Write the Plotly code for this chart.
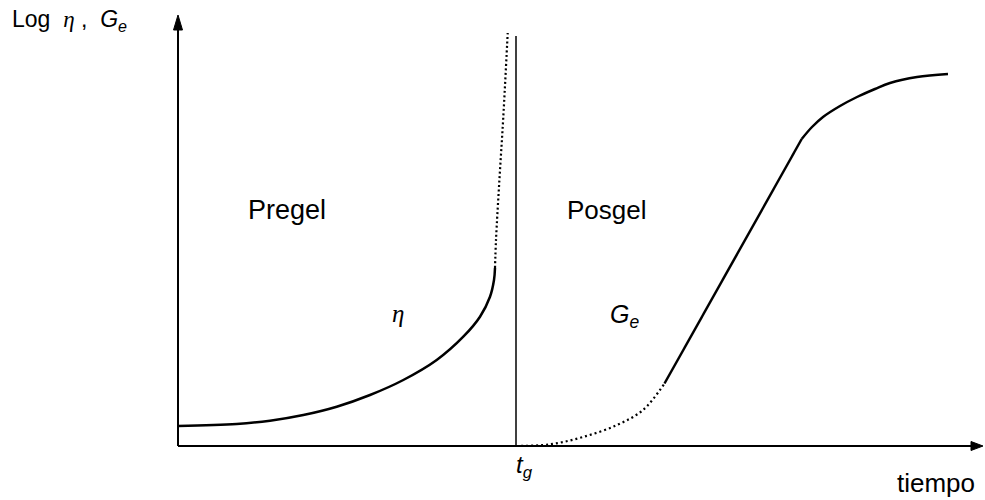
import plotly.graph_objects as go

# Schematic rheology of gelation: log viscosity (pregel) and log elastic modulus (posgel)
# Time in arbitrary units; gel time t_g marks the transition.
T_GEL = 3.38
T_MAX = 8.05          # end of time axis (arrow tip)
LOG_MAX = 4.31        # end of log axis (arrow tip)
GEL_LINE_TOP = 4.10

# Viscosity rising towards the gel point (measured part)
eta_t = [0.00, 0.587, 0.92, 1.253, 1.587, 1.92, 2.253, 2.587, 2.853, 3.02, 3.12, 3.16, 3.17]
eta_log = [0.20, 0.22, 0.253, 0.31, 0.393, 0.51, 0.66, 0.86, 1.093, 1.293, 1.493, 1.66, 1.78]

# Viscosity divergence close to t_g (extrapolated)
eta_ext_t = [3.17, 3.18, 3.214, 3.253, 3.297]
eta_ext_log = [1.78, 2.06, 2.66, 3.29, 4.13]

# Elastic modulus just after t_g (extrapolated)
ge_ext_t = [3.38, 3.72, 4.05, 4.39, 4.65, 4.865]
ge_ext_log = [0.00, 0.017, 0.09, 0.21, 0.36, 0.625]

# Elastic modulus: linear growth
ge_lin_t = [4.865, 6.237]
ge_lin_log = [0.625, 3.07]

# Elastic modulus: approach to the plateau
ge_t = [6.237, 6.34, 6.45, 6.62, 6.79, 6.97, 7.12, 7.39, 7.70]
ge_log = [3.07, 3.19, 3.29, 3.40, 3.49, 3.57, 3.63, 3.69, 3.72]

BLACK = "#000000"
SANS = "Liberation Sans, Arial, sans-serif"

fig = go.Figure()

# Axes drawn as lines from the origin
fig.add_trace(go.Scatter(x=[0, 0], y=[0, LOG_MAX - 0.1], mode="lines",
                         line=dict(color=BLACK, width=2), hoverinfo="skip"))
fig.add_trace(go.Scatter(x=[0, T_MAX - 0.1], y=[0, 0], mode="lines",
                         line=dict(color=BLACK, width=2), hoverinfo="skip"))

# Arrowheads at the axis ends
head_len_y, head_half_y = 0.15, 0.045
head_len_x, head_half_x = 0.12, 0.045
fig.add_trace(go.Scatter(
    x=[-head_half_y, head_half_y, 0, -head_half_y],
    y=[LOG_MAX - head_len_y, LOG_MAX - head_len_y, LOG_MAX, LOG_MAX - head_len_y],
    mode="lines", fill="toself", fillcolor=BLACK, line=dict(color=BLACK, width=1),
    hoverinfo="skip"))
fig.add_trace(go.Scatter(
    x=[T_MAX - head_len_x, T_MAX - head_len_x, T_MAX, T_MAX - head_len_x],
    y=[-head_half_x, head_half_x, 0, -head_half_x],
    mode="lines", fill="toself", fillcolor=BLACK, line=dict(color=BLACK, width=1),
    hoverinfo="skip"))

# Gel point
fig.add_trace(go.Scatter(x=[T_GEL, T_GEL], y=[0, GEL_LINE_TOP], mode="lines",
                         line=dict(color=BLACK, width=1.5), hoverinfo="skip"))

# Curves
fig.add_trace(go.Scatter(x=eta_t, y=eta_log, mode="lines",
                         line=dict(color=BLACK, width=2.5, shape="spline", smoothing=1.0),
                         hoverinfo="skip"))
fig.add_trace(go.Scatter(x=eta_ext_t, y=eta_ext_log, mode="lines",
                         line=dict(color=BLACK, width=2.2, dash="2px,2.5px", shape="spline"),
                         hoverinfo="skip"))
fig.add_trace(go.Scatter(x=ge_ext_t, y=ge_ext_log, mode="lines",
                         line=dict(color=BLACK, width=2.2, dash="2px,3px", shape="spline"),
                         hoverinfo="skip"))
fig.add_trace(go.Scatter(x=ge_lin_t, y=ge_lin_log, mode="lines",
                         line=dict(color=BLACK, width=2.5), hoverinfo="skip"))
fig.add_trace(go.Scatter(x=ge_t, y=ge_log, mode="lines",
                         line=dict(color=BLACK, width=2.5, shape="spline", smoothing=1.0),
                         hoverinfo="skip"))

eta_sym = "<span style='font-family:Liberation Serif, serif'><i>η</i></span>"
ge_sym = "<i>G<sub>e</sub></i>"

annotations = [
    dict(x=1.09, y=2.36, text="Pregel", size=27),
    dict(x=4.29, y=2.36, text="Posgel", size=26),
    dict(x=2.20, y=1.33, text=eta_sym, size=25),
    dict(x=4.46, y=1.30, text=ge_sym, size=25),
    dict(x=3.46, y=-0.20, text="<i>t<sub>g</sub></i>", size=24),
    dict(x=7.58, y=-0.37, text="tiempo", size=26),
    dict(x=-1.68, y=4.26, text="Log  " + eta_sym + " ,  " + ge_sym, xanchor="left", size=23),
]
for a in annotations:
    size = a.pop("size")
    a.setdefault("xanchor", "center")
    a.update(showarrow=False, font=dict(family=SANS, size=size, color=BLACK),
             xref="x", yref="y", yanchor="middle")

fig.update_layout(
    width=985, height=500,
    margin=dict(l=0, r=0, t=0, b=0),
    paper_bgcolor="white", plot_bgcolor="white",
    showlegend=False,
    annotations=annotations,
    xaxis=dict(range=[-1.78, 8.07], visible=False, fixedrange=True),
    yaxis=dict(range=[-0.54, 4.46], visible=False, fixedrange=True),
)

fig.write_html("out.html")
